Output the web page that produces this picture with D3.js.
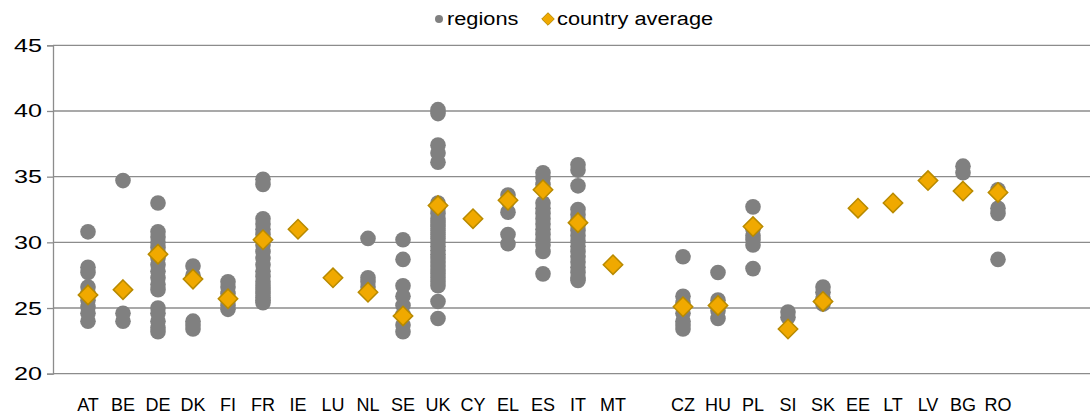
<!DOCTYPE html>
<html><head><meta charset="utf-8">
<script src="https://cdn.jsdelivr.net/npm/d3@7"></script>
<style>body{margin:0;background:#fff}svg{display:block}text{font-family:"Liberation Sans",Arial,sans-serif}</style>
</head><body><svg id="c" width="1090" height="419"></svg>
<script>
const categories = ["AT","BE","DE","DK","FI","FR","IE","LU","NL","SE","UK","CY","EL","ES","IT","MT","","CZ","HU","PL","SI","SK","EE","LT","LV","BG","RO"];
const regionValues = [
  [30.8,28.1,27.7,26.6,26.1,25.6,25.1,24.6,24.0],
  [34.7,24.6,24.0],
  [33.0,30.8,30.4,30.0,29.6,29.2,28.8,28.3,27.8,27.3,26.8,26.4,25.0,24.6,24.0,23.5,23.2],
  [28.2,27.5,24.0,23.7,23.4],
  [27.0,26.6,26.1,25.6,25.2,24.9],
  [34.8,34.4,31.8,31.4,31.0,30.6,30.2,29.8,29.3,28.8,28.3,27.8,27.4,27.0,26.7,26.4,26.1,25.8,25.6,25.4],
  [],
  [],
  [30.3,27.3,27.0,26.6],
  [30.2,28.7,26.7,25.9,25.2,24.5,23.7,23.2],
  [40.1,39.8,37.4,36.8,36.1,33.0,32.6,32.2,31.8,31.5,31.2,30.9,30.6,30.3,30.0,29.7,29.4,29.1,28.8,28.5,28.2,27.9,27.6,27.3,27.0,26.7,25.5,24.2],
  [],
  [33.6,33.2,32.3,30.6,29.9],
  [35.3,34.9,34.4,33.0,32.6,32.2,31.8,31.4,31.0,30.6,30.2,29.8,29.3,27.6],
  [35.9,35.5,34.3,32.5,32.1,31.7,31.3,30.9,30.5,30.1,29.7,29.3,28.9,28.5,28.1,27.7,27.3,27.1],
  [],
  [],
  [28.9,25.9,25.4,24.6,24.0,23.7,23.4],
  [27.7,25.6,25.2,24.8,24.2],
  [32.7,31.0,30.5,30.2,29.8,28.0],
  [24.7,24.3],
  [26.6,26.2,25.7,25.3],
  [],
  [],
  [],
  [35.8,35.3],
  [34.0,32.6,32.2,28.7]
];
const countryAverage = [26.0,26.4,29.1,27.2,25.7,30.2,31.0,27.3,26.2,24.4,32.8,31.8,33.2,34.0,31.5,28.3,null,25.1,25.2,31.2,23.4,25.5,32.6,33.0,34.7,33.9,33.8];
const yTicks = [20,25,30,35,40,45];

const svg = d3.select("#c");
const x = d3.scaleLinear().domain([0,30]).range([53,1103]);
const y = d3.scaleLinear().domain([20,45]).range([373.7,45.3]);
const gridCol = "#8c8c8c";

// gridlines
svg.append("g").selectAll("line").data(yTicks).join("line")
  .attr("x1",53).attr("x2",1103).attr("y1",d=>y(d)).attr("y2",d=>y(d))
  .attr("stroke",gridCol).attr("stroke-width",1.3);

// y axis
const ya = svg.append("g").attr("transform","translate(53,0)")
  .call(d3.axisLeft(y).tickValues(yTicks).tickSize(6).tickPadding(5));
ya.select(".domain").attr("stroke",gridCol).attr("stroke-width",1.3);
ya.selectAll(".tick line").attr("stroke",gridCol).attr("stroke-width",1.3);
ya.selectAll(".tick text").remove();
svg.append("g").selectAll("text").data(yTicks).join("text")
  .attr("transform",d=>`translate(42,${y(d)+6.5}) scale(1.4,1)`)
  .attr("text-anchor","end").attr("font-size",18).attr("fill","#000").text(d=>d);

// x labels
svg.append("g").selectAll("text").data(categories.map((c,i)=>({c,i})).filter(d=>d.c)).join("text")
  .attr("x",d=>x(d.i+1)).attr("y",411)
  .attr("text-anchor","middle").attr("font-size",18).attr("fill","#000").text(d=>d.c);

// region dots
const pts = [];
regionValues.forEach((arr,i)=>arr.forEach(v=>pts.push({i,v})));
svg.append("g").selectAll("circle").data(pts).join("circle")
  .attr("cx",d=>x(d.i+1)).attr("cy",d=>y(d.v)).attr("r",7.8).attr("fill","#808080");

// averages
const diamond = d3.symbol().type(d3.symbolDiamond2).size(240);
svg.append("g").selectAll("path").data(countryAverage.map((v,i)=>({v,i})).filter(d=>d.v!=null)).join("path")
  .attr("d",diamond).attr("transform",d=>`translate(${x(d.i+1)},${y(d.v)})`)
  .attr("fill","#f0a900").attr("stroke","#b88a00").attr("stroke-width",1.5);

// legend
const lg = svg.append("g");
lg.append("circle").attr("cx",439).attr("cy",19).attr("r",4).attr("fill","#808080");
lg.append("text").attr("transform","translate(447,25) scale(1.21,1)").attr("font-size",18).text("regions");
lg.append("path").attr("d",d3.symbol().type(d3.symbolDiamond2).size(100)).attr("transform","translate(548,19)")
  .attr("fill","#f0a900").attr("stroke","#b88a00").attr("stroke-width",1);
lg.append("text").attr("transform","translate(557,25) scale(1.21,1)").attr("font-size",18).text("country average");
</script></body></html>
